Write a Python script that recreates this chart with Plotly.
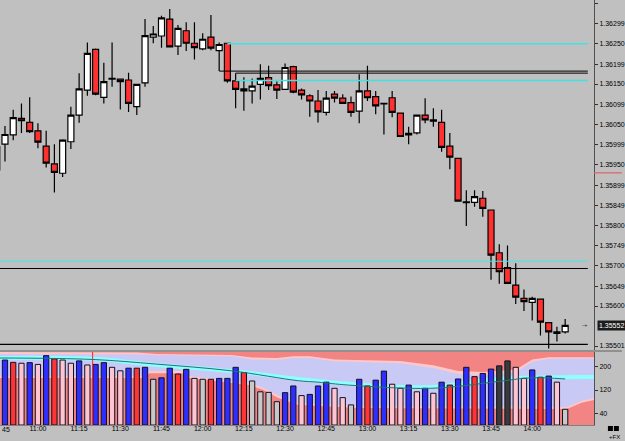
import plotly.graph_objects as go

# ---------------- data ----------------
# candle index 0 = 10:48, 3-minute bars (index -1 = 10:45, partly off-chart)
idx = list(range(-1, 69))
opens = [1.35937, 1.36001, 1.36024, 1.36065, 1.36055, 1.36034, 1.35996, 1.35952, 1.35929, 1.36007,
         1.36073, 1.36135, 1.36236, 1.36117, 1.36162, 1.36162, 1.36160, 1.36094, 1.36153, 1.36266,
         1.36269, 1.36311, 1.36244, 1.36282, 1.36251, 1.36237, 1.36266, 1.36233, 1.36251, 1.36158,
         1.36138, 1.36133, 1.36149, 1.36166, 1.36148, 1.36137, 1.36193, 1.36135, 1.36121, 1.36108,
         1.36080, 1.36125, 1.36115, 1.36104, 1.36083, 1.36133, 1.36119, 1.36102, 1.36116, 1.36078,
         1.36028, 1.36029, 1.36073, 1.36061, 1.36055, 1.35996, 1.35966, 1.35858, 1.35857, 1.35867,
         1.35838, 1.35732, 1.35695, 1.35652, 1.35619, 1.35609, 1.35617, 1.35559, 1.35536, 1.35536]
highs = [1.36000, 1.36046, 1.36086, 1.36102, 1.36117, 1.36053, 1.36034, 1.36001, 1.36013, 1.36094,
         1.36177, 1.36253, 1.36238, 1.36203, 1.36253, 1.36163, 1.36178, 1.36150, 1.36311, 1.36294,
         1.36319, 1.36336, 1.36296, 1.36303, 1.36303, 1.36276, 1.36321, 1.36253, 1.36252, 1.36177,
         1.36167, 1.36164, 1.36199, 1.36195, 1.36156, 1.36201, 1.36195, 1.36139, 1.36125, 1.36135,
         1.36133, 1.36133, 1.36125, 1.36119, 1.36174, 1.36195, 1.36133, 1.36102, 1.36133, 1.36078,
         1.36044, 1.36074, 1.36115, 1.36090, 1.36086, 1.36029, 1.35967, 1.35887, 1.35887, 1.35885,
         1.35838, 1.35753, 1.35750, 1.35706, 1.35641, 1.35623, 1.35617, 1.35560, 1.35549, 1.35568]
lows = [1.35930, 1.35958, 1.36011, 1.36029, 1.36029, 1.35991, 1.35943, 1.35881, 1.35920, 1.35989,
        1.36054, 1.36121, 1.36122, 1.36102, 1.36143, 1.36087, 1.36081, 1.36073, 1.36143, 1.36251,
        1.36240, 1.36241, 1.36222, 1.36232, 1.36211, 1.36234, 1.36234, 1.36182, 1.36153, 1.36090,
        1.36084, 1.36102, 1.36112, 1.36135, 1.36113, 1.36135, 1.36127, 1.36112, 1.36069, 1.36055,
        1.36072, 1.36104, 1.36102, 1.36069, 1.36053, 1.36108, 1.36075, 1.36025, 1.36068, 1.36020,
        1.36001, 1.36025, 1.36053, 1.36044, 1.35982, 1.35939, 1.35860, 1.35798, 1.35846, 1.35821,
        1.35665, 1.35655, 1.35655, 1.35605, 1.35588, 1.35564, 1.35527, 1.35495, 1.35512, 1.35532]
closes = [1.35995, 1.36025, 1.36067, 1.36059, 1.36032, 1.36006, 1.35954, 1.35931, 1.36011, 1.36073,
          1.36138, 1.36226, 1.36125, 1.36156, 1.36164, 1.36156, 1.36102, 1.36149, 1.36270, 1.36274,
          1.36314, 1.36242, 1.36288, 1.36251, 1.36240, 1.36261, 1.36239, 1.36248, 1.36158, 1.36137,
          1.36133, 1.36145, 1.36164, 1.36146, 1.36135, 1.36191, 1.36130, 1.36123, 1.36108, 1.36081,
          1.36115, 1.36115, 1.36102, 1.36080, 1.36133, 1.36116, 1.36096, 1.36101, 1.36080, 1.36020,
          1.36024, 1.36073, 1.36061, 1.36058, 1.35993, 1.35969, 1.35860, 1.35856, 1.35871, 1.35842,
          1.35726, 1.35685, 1.35656, 1.35622, 1.35611, 1.35619, 1.35560, 1.35536, 1.35532, 1.35552]

vol_idx = list(range(0, 69))
volumes = [223, 215, 212, 214, 208, 238, 227, 223, 212, 220, 206, 208, 214, 198, 186, 195, 195, 198, 157, 162,
           195, 175, 191, 160, 157, 157, 160, 160, 198, 180, 151, 114, 112, 80, 111, 134, 101, 105, 134, 147,
           126, 94, 69, 157, 134, 154, 185, 140, 126, 137, 114, 126, 109, 147, 137, 158, 198, 166, 177, 192,
           203, 220, 198, 160, 189, 164, 168, 147, 54]
vol_kind = list("BRPBPBRPPBPBBPPBRBGBBRBPGRBBBRGGGGBBPBBBPPGBRBBPPBPBPBRBBRBBKKPPBRBPG")

# volume-panel envelopes (index, value)
up_x = [-0.6, 16, 18.4, 22, 27.5, 30, 33, 35, 37, 40, 48, 52, 55, 58, 62, 64, 66, 71.5]
up_salmon = [250.6, 249, 244, 242, 240, 232, 230, 236, 236, 225, 220, 205, 185, 182, 190, 225, 233, 233]
up_pink = [244, 243, 240, 238, 236, 225, 223, 230, 230, 219, 212, 196, 175, 172, 180, 217, 227, 228]
lo_x = [-0.6, 16.9, 17.5, 21.7, 22.3, 27.5, 29.6, 31.4, 33.2, 35.6, 42.9, 68.2, 70, 71.5]
lo_salmon = [161, 161, 178, 178, 161, 144, 137, 120, 93, 69, 58, 55, 76, 86]
lo_pink = [168, 168, 185, 185, 168, 151, 144, 127, 100, 76, 65, 62, 83, 93]
cyan_x = [-0.6, 10.6, 18.4, 27.5, 35.6, 38, 43.7, 51.7, 55.8, 61.8, 71.5]
cyan_v = [230, 227, 206, 185, 158, 151, 137, 130, 144, 161, 165]
teal_x = [-0.6, 10.6, 18.4, 27.5, 35.6, 38, 41.7, 51.7, 59.8, 63.8, 68]
teal_v = [230, 225, 209, 186, 152, 147, 137, 126, 149, 162, 158]
vline_idx = 10.64

# horizontal price levels: (price, start index, color, width)
levels = [(1.36250, 27, "#3FE3E3", 1.5), (1.36182, 26, "#000000", 1.0), (1.36177, 28, "#000000", 1.0),
          (1.36159, 28, "#3FE3E3", 1.5), (1.35711, -0.6, "#40E8E8", 1.0), (1.35693, -0.6, "#000000", 1.1),
          (1.35505, -0.6, "#000000", 1.1)]
level_end = 70.75
ask_price = 1.35930
last_price = 1.35552

price_ticks = [1.36350, 1.36299, 1.36250, 1.36199, 1.36150, 1.36099, 1.36050, 1.35999, 1.35950,
               1.35899, 1.35849, 1.35800, 1.35749, 1.35700, 1.35649, 1.35600, 1.35501]
time_labels = ["11:00", "11:15", "11:30", "11:45", "12:00", "12:15", "12:30", "12:45",
               "13:00", "13:15", "13:30", "13:45", "14:00"]

# ---------------- figure ----------------
def t_to_idx(t):
    h, m = map(int, t.split(":"))
    return ((h * 60 + m) - (10 * 60 + 48)) / 3

PW, PH = 597, 425
xr = [-0.604, 71.5]
BG = "#C0C0C0"
TOP = 250.6
fig = go.Figure()

for p, s, c, w in levels:
    fig.add_trace(go.Scatter(x=[s, level_end], y=[p, p], mode="lines", line=dict(color=c, width=w),
                             hoverinfo="skip", showlegend=False, xaxis="x", yaxis="y"))

fig.add_trace(go.Candlestick(
    x=idx, open=opens, high=highs, low=lows, close=closes,
    increasing=dict(line=dict(color="#000000", width=1.2), fillcolor="#FFFFFF"),
    decreasing=dict(line=dict(color="#000000", width=1.2), fillcolor="#FF3030"),
    whiskerwidth=0, hoverinfo="skip", showlegend=False, xaxis="x", yaxis="y"))

# volume panel: envelopes on x2/y2 (below), bars + lines on overlaying x3/y3 (above)
def sc(**kw):
    base = dict(mode="lines", hoverinfo="skip", showlegend=False)
    base.update(kw)
    return go.Scatter(**base)

fig.add_trace(sc(x=up_x + up_x[::-1], y=up_pink + [TOP] * len(up_x), fill="toself",
                 fillcolor="#FFC8C8", line=dict(width=0), xaxis="x2", yaxis="y2"))
fig.add_trace(sc(x=up_x + up_x[::-1], y=up_salmon + [TOP] * len(up_x), fill="toself",
                 fillcolor="#F28484", line=dict(width=0), xaxis="x2", yaxis="y2"))
fig.add_trace(sc(x=lo_x, y=lo_pink, fill="tozeroy", fillcolor="#FFC8C8", line=dict(width=0),
                 xaxis="x2", yaxis="y2"))
fig.add_trace(sc(x=lo_x, y=lo_salmon, fill="tozeroy", fillcolor="#F28484", line=dict(width=0),
                 xaxis="x2", yaxis="y2"))
fig.add_trace(sc(x=cyan_x, y=cyan_v, line=dict(color="#8CFFFF", width=4, shape="spline"),
                 xaxis="x2", yaxis="y2"))
kind_color = {"B": "#2E2EFF", "R": "#FF3434", "P": "#FFC4D2", "G": "#C8C8C8", "K": "#3A3A3A"}
fig.add_trace(go.Bar(x=vol_idx, y=volumes, width=0.64,
                     marker=dict(color=[kind_color[k] for k in vol_kind], line=dict(color="#101020", width=1)),
                     hoverinfo="skip", showlegend=False, xaxis="x3", yaxis="y3"))
fig.add_trace(sc(x=[vline_idx, vline_idx], y=[0, TOP], line=dict(color="#FF2020", width=1),
                 xaxis="x3", yaxis="y3"))
fig.add_trace(sc(x=teal_x, y=teal_v, line=dict(color="#2A7070", width=1, shape="spline"),
                 xaxis="x3", yaxis="y3"))

font = dict(family="Liberation Sans, Arial, sans-serif", size=7, color="#000000")
fig.update_layout(
    width=625, height=441, margin=dict(l=0, r=28, t=0, b=16),
    paper_bgcolor=BG, plot_bgcolor=BG, showlegend=False, font=font,
    boxgap=0.27, boxgroupgap=0,
    xaxis=dict(domain=[0, 1], range=xr, anchor="y", showticklabels=False, showgrid=False, zeroline=False,
               rangeslider=dict(visible=False), fixedrange=True, ticks=""),
    yaxis=dict(domain=[75 / PH, 1], range=[1.354911, 1.363582], side="right", anchor="x",
               tickvals=price_ticks, ticktext=["%.5f" % v for v in price_ticks],
               ticks="outside", ticklen=3, tickcolor="#303030", tickfont=font,
               showline=True, linecolor="#505050", linewidth=1, showgrid=False, zeroline=False),
    xaxis2=dict(domain=[0, 1], range=xr, anchor="y2", tickvals=[t_to_idx(t) for t in time_labels],
                ticktext=time_labels, ticks="", tickfont=font, ticklabelstandoff=-3,
                showline=True, linecolor="#808080", showgrid=False, zeroline=False),
    yaxis2=dict(domain=[0, 73 / PH], range=[0, TOP], side="right", anchor="x2",
                tickvals=[40, 120, 200], ticks="outside", ticklen=3, tickcolor="#303030", tickfont=font,
                showline=True, linecolor="#505050", showgrid=False, zeroline=False),
    xaxis3=dict(overlaying="x2", range=xr, anchor="y3", visible=False),
    yaxis3=dict(overlaying="y2", range=[0, TOP], anchor="x3", visible=False, side="right"),
)

shapes = [
    dict(type="rect", xref="x2 domain", yref="y2 domain", x0=0, x1=1, y0=0, y1=1,
         fillcolor="#C9C9F6", line=dict(width=0), layer="below"),
    dict(type="line", xref="paper", yref="paper", x0=0, x1=625 / PW, y0=(PH - 351) / PH, y1=(PH - 351) / PH,
         line=dict(color="#808080", width=1.5)),
    dict(type="line", xref="paper", yref="y", x0=1.0, x1=625 / PW, y0=ask_price, y1=ask_price,
         line=dict(color="#E06060", width=1.2)),
    dict(type="rect", xref="paper", yref="paper", x0=611 / PW, x1=616 / PW, y0=(PH - 431) / PH,
         y1=(PH - 426) / PH, fillcolor="#000000", line=dict(width=0)),
    dict(type="rect", xref="paper", yref="paper", x0=617 / PW, x1=622 / PW, y0=(PH - 431) / PH,
         y1=(PH - 426) / PH, fillcolor="#000000", line=dict(width=0)),
]
fig.update_layout(shapes=shapes)

fig.update_layout(annotations=[
    dict(text="45", xref="paper", yref="paper", x=0, y=(PH - 429.5) / PH, xanchor="left",
         yanchor="middle", showarrow=False, font=font),
    dict(text="%.5f" % last_price, xref="paper", yref="y", x=600 / PW, y=last_price, xanchor="left",
         yanchor="middle", showarrow=False, bgcolor="#1C1C1C", borderpad=1,
         font=dict(family=font["family"], size=7, color="#FFFFFF")),
    dict(text="-+", xref="paper", yref="y", x=593 / PW, y=last_price, xanchor="right", yanchor="middle",
         showarrow=False, font=dict(family=font["family"], size=6, color="#303030")),
    dict(text="+FX", xref="paper", yref="paper", x=625 / PW, y=(PH - 437.5) / PH, xanchor="right",
         yanchor="middle", showarrow=False, font=dict(family=font["family"], size=6, color="#000000")),
])

fig.write_html("out.html")
